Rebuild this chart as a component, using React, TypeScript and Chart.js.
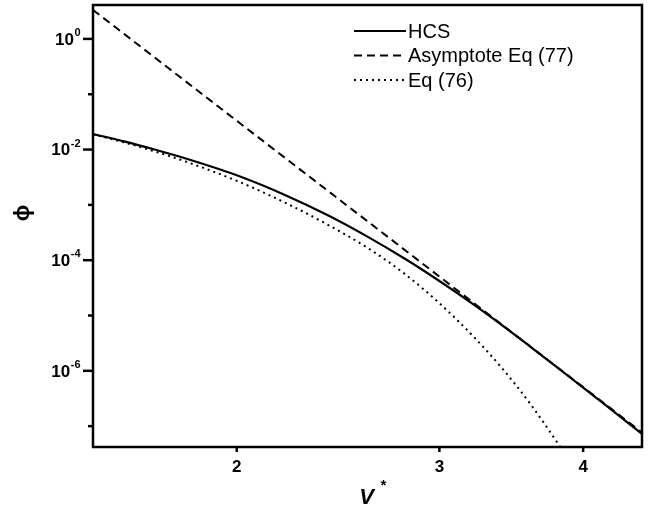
import React, { useEffect, useRef } from 'react';
import { Chart, registerables } from 'chart.js';

Chart.register(...registerables);

// ---- data ----
const hcsV = [1.5, 1.6, 1.7, 1.8, 2.0, 2.2, 2.4, 2.6, 2.8, 3.0, 3.2, 3.4, 3.6, 3.8, 4.0, 4.2, 4.5];
const hcsPhi = [1.91e-2, 1.39e-2, 9.9e-3, 7.04e-3, 3.43e-3, 1.53e-3, 6.48e-4, 2.64e-4, 1.06e-4, 4.21e-5, 1.68e-5, 6.72e-6, 2.72e-6, 1.14e-6, 4.99e-7, 2.25e-7, 7.23e-8];

const asymV = [1.5, 2.0, 3.0, 4.0, 4.5];
const asymPhi = [3.34, 3.31e-2, 5.06e-5, 5.07e-7, 7.67e-8];

const eq76V = [1.5, 1.6, 1.7, 1.8, 2.0, 2.2, 2.4, 2.6, 2.8, 3.0, 3.2, 3.4, 3.6, 3.8, 3.9];
const eq76Phi = [1.88e-2, 1.33e-2, 9.15e-3, 6.21e-3, 2.72e-3, 1.11e-3, 4.37e-4, 1.66e-4, 5.61e-5, 1.67e-5, 4.51e-6, 1.12e-6, 2.5e-7, 4.98e-8, 2.14e-8];

const seriesLabels = ['HCS', 'Asymptote Eq (77)', 'Eq (76)'];
const xTickValues = [2, 3, 4];
const yMajorExps = [0, -2, -4, -6];
const yMinorExps = [-1, -3, -5, -7];
const xRange = [1.5, 4.5];
const yRange = [4.2e-8, 4.1];

const FONT = '"Liberation Sans", Arial, Helvetica, sans-serif';

const zip = (xs: number[], ys: number[]) => xs.map((x, i) => ({ x, y: ys[i] }));

const decorPlugin = {
  id: 'decor',
  afterDraw(chart: any) {
    const ctx = chart.ctx as CanvasRenderingContext2D;
    const { left, right, top, bottom } = chart.chartArea;
    const xs = chart.scales.x;
    const ys = chart.scales.y;
    ctx.save();
    ctx.strokeStyle = '#000';
    ctx.fillStyle = '#000';
    ctx.lineCap = 'butt';
    // frame
    ctx.lineWidth = 2.5;
    ctx.setLineDash([]);
    ctx.strokeRect(left, top, right - left, bottom - top);
    // y ticks + labels
    yMajorExps.forEach((e) => {
      const p = ys.getPixelForValue(Math.pow(10, e));
      ctx.beginPath();
      ctx.moveTo(left - 10, p);
      ctx.lineTo(left, p);
      ctx.stroke();
      const exp = String(e);
      ctx.textBaseline = 'middle';
      ctx.textAlign = 'left';
      ctx.font = `bold 11px ${FONT}`;
      const ew = ctx.measureText(exp).width;
      ctx.font = `bold 17px ${FONT}`;
      const bw = ctx.measureText('10').width;
      const endX = left - 13;
      const startX = endX - ew - bw;
      ctx.fillText('10', startX, p + 1);
      ctx.font = `bold 11px ${FONT}`;
      ctx.fillText(exp, startX + bw + 0.5, p - 6);
    });
    yMinorExps.forEach((e) => {
      const p = ys.getPixelForValue(Math.pow(10, e));
      ctx.beginPath();
      ctx.moveTo(left - 5, p);
      ctx.lineTo(left, p);
      ctx.stroke();
    });
    // x ticks
    xTickValues.forEach((v) => {
      const p = xs.getPixelForValue(v);
      ctx.beginPath();
      ctx.moveTo(p, bottom);
      ctx.lineTo(p, bottom + 5);
      ctx.stroke();
    });
    // axis titles
    ctx.textAlign = 'center';
    ctx.textBaseline = 'middle';
    ctx.font = `italic bold 22px ${FONT}`;
    const cx = (left + right) / 2;
    ctx.fillText('V', cx - 1, bottom + 51);
    ctx.font = `bold 15px ${FONT}`;
    ctx.fillText('*', cx + 16, bottom + 39);
    ctx.save();
    ctx.translate(23, (top + bottom) / 2 - 13);
    ctx.rotate(-Math.PI / 2);
    ctx.font = `bold 22px ${FONT}`;
    ctx.fillText('ϕ', 0, 0);
    ctx.restore();
    // legend
    const ds = chart.data.datasets;
    ctx.font = `20px ${FONT}`;
    ctx.textAlign = 'left';
    ds.forEach((d: any, i: number) => {
      const y = top + 26 + i * 24.5;
      ctx.lineWidth = 2;
      ctx.setLineDash(d.borderDash || []);
      ctx.beginPath();
      ctx.moveTo(right - 288, y);
      ctx.lineTo(right - 236, y);
      ctx.stroke();
      ctx.setLineDash([]);
      ctx.fillText(d.label, right - 234, y + 1);
    });
    ctx.restore();
  },
};

export default function App() {
  const ref = useRef<HTMLCanvasElement>(null);
  useEffect(() => {
    if (!ref.current) return;
    const chart = new Chart(ref.current, {
      type: 'line',
      data: {
        datasets: [
          {
            label: seriesLabels[0],
            data: zip(hcsV, hcsPhi),
            borderColor: '#000',
            borderWidth: 2.2,
            pointRadius: 0,
            cubicInterpolationMode: 'monotone',
            borderDash: [],
          },
          {
            label: seriesLabels[1],
            data: zip(asymV, asymPhi),
            borderColor: '#000',
            borderWidth: 2,
            pointRadius: 0,
            borderDash: [8, 5],
          },
          {
            label: seriesLabels[2],
            data: zip(eq76V, eq76Phi),
            borderColor: '#000',
            borderWidth: 2,
            pointRadius: 0,
            cubicInterpolationMode: 'monotone',
            borderDash: [2, 4],
          },
        ],
      },
      options: {
        animation: false,
        responsive: false,
        devicePixelRatio: 1,
        layout: { padding: { top: 5, right: 9, left: 0, bottom: 0 } },
        plugins: { legend: { display: false }, tooltip: { enabled: false } },
        scales: {
          x: {
            type: 'logarithmic',
            min: xRange[0],
            max: xRange[1],
            afterBuildTicks: (s: any) => {
              s.ticks = xTickValues.map((v) => ({ value: v }));
            },
            afterFit: (s: any) => {
              s.height = 77;
              s.paddingLeft = 0;
              s.paddingRight = 0;
            },
            ticks: {
              callback: (v: any) => String(v),
              font: { family: FONT, size: 17, weight: 'bold' },
              color: '#000',
              padding: 10,
              maxRotation: 0,
              autoSkip: false,
            },
            grid: { display: false, drawTicks: false },
            border: { display: false },
          },
          y: {
            type: 'logarithmic',
            min: yRange[0],
            max: yRange[1],
            afterBuildTicks: (s: any) => {
              s.ticks = [...yMajorExps, ...yMinorExps].sort((a, b) => b - a).map((e) => ({ value: Math.pow(10, e) }));
            },
            afterFit: (s: any) => {
              s.width = 93;
              s.paddingTop = 0;
              s.paddingBottom = 0;
            },
            ticks: {
              callback: () => '',
              color: '#000',
              padding: 13,
              autoSkip: false,
            },
            grid: { display: false, drawTicks: false },
            border: { display: false },
          },
        },
      },
      plugins: [decorPlugin],
    } as any);
    return () => chart.destroy();
  }, []);
  return (
    <div style={{ position: 'fixed', left: 0, top: 0, width: 651, height: 524, background: '#fff' }}>
      <canvas ref={ref} width={651} height={524} />
    </div>
  );
}
